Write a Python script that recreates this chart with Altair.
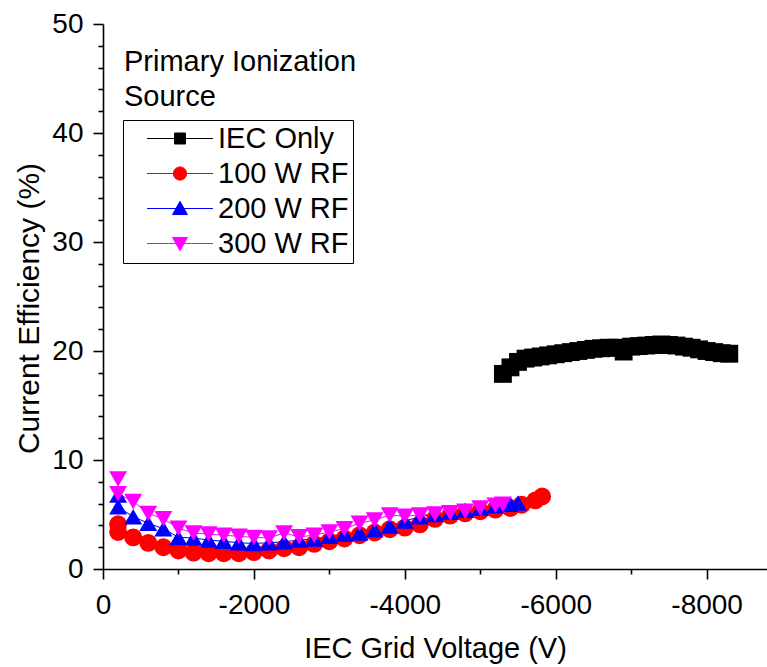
import altair as alt
import pandas as pd

SERIES = ["IEC Only", "100 W RF", "200 W RF", "300 W RF"]
COLORS = ["#000000", "#ff0000", "#0000ff", "#ff00ff"]
SHAPES = ["square", "circle", "triangle-up", "triangle-down"]
SIZES = [150, 320, 320, 320]

iec_v = [-5300, -5400, -5500, -5600, -5700, -5800, -5900, -6000, -6100, -6200,
         -6300, -6400, -6500, -6600, -6700, -6800, -6900, -7000, -7100, -7200,
         -7300, -7400, -7500, -7600, -7700, -7800, -7900, -8000, -8100, -8200, -8300]
iec_eff = [17.9, 18.5, 19.0, 19.3, 19.4, 19.5, 19.6, 19.7, 19.8, 19.9,
           20.0, 20.1, 20.2, 20.25, 20.3, 20.3, 19.95, 20.4, 20.45, 20.5,
           20.55, 20.6, 20.55, 20.5, 20.4, 20.3, 20.15, 20.0, 19.9, 19.8, 19.75]

rf100_v = [-200, -200, -400, -600, -800, -1000, -1200, -1400, -1600, -1800,
           -2000, -2200, -2400, -2600, -2800, -3000, -3200, -3400, -3600, -3800,
           -4000, -4200, -4400, -4600, -4800, -5000, -5200, -5400, -5550, -5730, -5820]
rf100_eff = [4.1, 3.4, 2.9, 2.4, 2.0, 1.7, 1.5, 1.45, 1.45, 1.45,
             1.55, 1.7, 1.9, 2.0, 2.3, 2.55, 2.8, 3.1, 3.35, 3.65,
             3.8, 4.1, 4.6, 4.9, 5.1, 5.3, 5.45, 5.6, 5.9, 6.3, 6.65]

rf200_v = [-200, -200, -400, -600, -800, -1000, -1200, -1400, -1600, -1800,
           -2000, -2200, -2400, -2600, -2800, -3000, -3200, -3400, -3600, -3800,
           -4000, -4200, -4400, -4600, -4800, -5000, -5200, -5400, -5500]
rf200_eff = [6.8, 5.7, 4.8, 4.2, 3.7, 2.9, 2.85, 2.65, 2.55, 2.4,
             2.35, 2.4, 2.5, 2.65, 2.75, 3.0, 3.2, 3.3, 3.6, 3.95,
             4.4, 4.8, 5.0, 5.2, 5.4, 5.6, 5.8, 5.95, 6.05]

rf300_v = [-200, -200, -400, -600, -800, -1000, -1200, -1400, -1600, -1800,
           -2000, -2200, -2400, -2600, -2800, -3000, -3200, -3400, -3600, -3800,
           -4000, -4200, -4400, -4600, -4800, -5000, -5200, -5300]
rf300_eff = [8.25, 6.9, 6.2, 5.1, 4.6, 3.75, 3.3, 3.2, 3.1, 3.0,
             2.9, 2.85, 3.3, 2.95, 3.1, 3.4, 3.7, 4.2, 4.5, 4.95,
             4.85, 4.95, 5.05, 5.15, 5.3, 5.6, 5.85, 5.95]

x_major = [0, -2000, -4000, -6000, -8000]
x_minor = [-1000, -3000, -5000, -7000]
y_major = [0, 10, 20, 30, 40, 50]
y_minor = [2, 4, 6, 8, 12, 14, 16, 18, 22, 24, 26, 28, 32, 34, 36, 38, 42, 44, 46, 48]
legend_title = ["Primary Ionization", "Source"]

rows = []
for name, xs, ys in zip(SERIES, [iec_v, rf100_v, rf200_v, rf300_v],
                        [iec_eff, rf100_eff, rf200_eff, rf300_eff]):
    for i, (xv, yv) in enumerate(zip(xs, ys)):
        rows.append({"series": name, "voltage": xv, "eff": yv, "idx": i})
df = pd.DataFrame(rows)

FONT = "Liberation Sans"
xscale = alt.Scale(domain=[-8800, 0], reverse=True, nice=False, zero=False)
yscale = alt.Scale(domain=[0, 50], nice=False)
cscale = alt.Scale(domain=SERIES, range=COLORS)
# marker scales use the reversed order so they are kept apart from the line legend
rev = SERIES[::-1]
fscale = alt.Scale(domain=rev, range=COLORS[::-1])
shscale = alt.Scale(domain=rev, range=SHAPES[::-1])
szscale = alt.Scale(domain=rev, range=SIZES[::-1])

common_axis = dict(domainColor="black", tickColor="black", labelColor="black",
                   titleColor="black", labelFont=FONT, titleFont=FONT,
                   labelFontSize=28, titleFontWeight="normal", labelFlush=False,
                   grid=False, domainWidth=1.6, tickWidth=1.6)

x_axis = alt.Axis(values=x_major, tickSize=10, labelPadding=12, titlePadding=15,
                  title="IEC Grid Voltage (V)", orient="bottom", titleFontSize=29,
                  labelExpr="datum.value == 0 ? '0' : '-' + format(-datum.value, 'd')",
                  **common_axis)
y_axis = alt.Axis(values=y_major, tickSize=10, labelPadding=10, titlePadding=7,
                  title="Current Efficiency (%)", orient="left", titleFontSize=30,
                  titleY=284, **common_axis)
x_axis_minor = alt.Axis(values=x_minor, tickSize=5, labels=False, domain=False,
                        title=None, grid=False, tickColor="black", tickWidth=1.6,
                        orient="bottom")
y_axis_minor = alt.Axis(values=y_minor, tickSize=5, labels=False, domain=False,
                        title=None, grid=False, tickColor="black", tickWidth=1.6,
                        orient="left")

sym_expr = ("datum.value === 'IEC Only' ? 'M0.5,0H6.5M3,-0.5H4V0.5H3Z' : "
            "datum.value === '100 W RF' ? 'M0.5,0H6.5M4.1,0A0.6,0.6,0,1,1,2.9,0A0.6,0.6,0,1,1,4.1,0Z' : "
            "datum.value === '200 W RF' ? 'M0.5,0H6.5M2.82,0.55L4.18,0.55L3.5,-0.65Z' : "
            "'M0.5,0H6.5M2.82,-0.55L4.18,-0.55L3.5,0.65Z'")

legend = alt.Legend(
    title=None, orient="none", legendX=20, legendY=96,
    strokeColor="black", padding=4, labelFont=FONT, labelFontSize=29,
    labelColor="black", symbolSize=484, labelOffset=62, rowPadding=5,
    symbolStrokeWidth=1, symbolType={"expr": sym_expr},
    symbolStrokeColor={"expr": "scale('color', datum.value)"},
    symbolFillColor={"expr": "scale('color', datum.value)"},
    symbolOpacity=1, labelLimit=400,
)

base = alt.Chart(df)

minor = base.mark_point(opacity=0).encode(
    x=alt.X("voltage:Q", scale=xscale, axis=x_axis_minor),
    y=alt.Y("eff:Q", scale=yscale, axis=y_axis_minor),
)

lines = base.mark_line(strokeWidth=1).encode(
    x=alt.X("voltage:Q", scale=xscale, axis=None),
    y=alt.Y("eff:Q", scale=yscale, axis=None),
    color=alt.Color("series:N", scale=cscale, legend=legend),
    detail="series:N",
    order="idx:Q",
)

points = base.mark_point(filled=True, opacity=1).encode(
    x=alt.X("voltage:Q", scale=xscale, axis=x_axis),
    y=alt.Y("eff:Q", scale=yscale, axis=y_axis),
    fill=alt.Fill("series:N", scale=fscale, legend=None),
    shape=alt.Shape("series:N", scale=shscale, legend=None),
    size=alt.Size("series:N", scale=szscale, legend=None),
)

title_text = alt.Chart(alt.Data(values=[{}])).mark_text(
    align="left", baseline="alphabetic", font=FONT, fontSize=29,
    lineHeight=35, color="black"
).encode(x=alt.value(21), y=alt.value(47), text=alt.value(legend_title))

chart = alt.layer(minor, lines, points, title_text).resolve_axis(
    x="independent", y="independent"
).properties(
    width=664, height=545,
    autosize=alt.AutoSizeParams(type="none"),
    padding={"left": 103, "top": 24, "right": 0, "bottom": 98},
).configure_view(stroke=None)

chart.save("out.html", embed_options={"renderer": "svg", "actions": False})
